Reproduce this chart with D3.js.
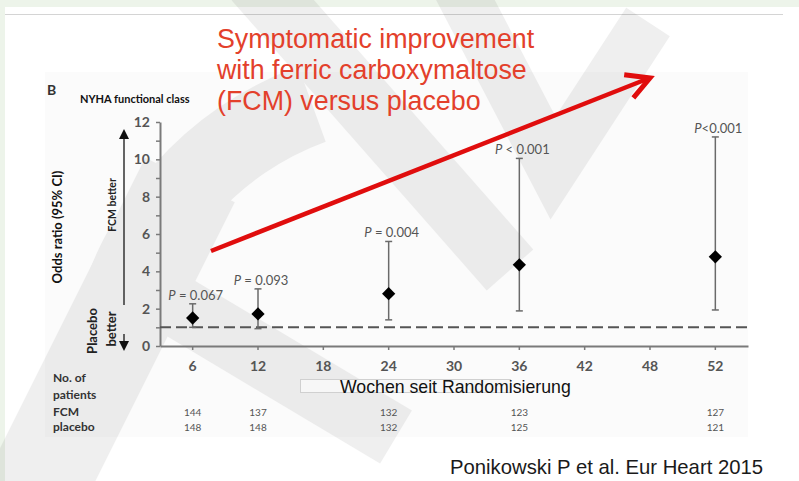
<!DOCTYPE html>
<html>
<head>
<meta charset="utf-8">
<script src="https://cdn.jsdelivr.net/npm/d3@7"></script>
<style>
body { margin: 0; background: #fff; }
svg { display: block; }
.cal { font-family: Lato, "Open Sans", sans-serif; }
.ar { font-family: "Liberation Sans", Arial, sans-serif; }
</style>
</head>
<body>
<svg id="chart" width="799" height="481"></svg>
<script>
// x categories (weeks since randomisation)
const weeks = ["6", "12", "18", "24", "30", "36", "42", "48", "52"];
// weeks that have a measurement
const pointWeeks = ["6", "12", "24", "36", "52"];
const oddsRatio = [1.5, 1.72, 2.8, 4.35, 4.78];
const ciLow = [1.0, 0.93, 1.4, 1.88, 1.93];
const ciHigh = [2.26, 3.06, 5.6, 10.05, 11.2];
const pValues = [" = 0.067", " = 0.093", " = 0.004", " < 0.001", "<0.001"];
const nFCM = [144, 137, 132, 123, 127];
const nPlacebo = [148, 148, 132, 125, 121];
const yTicks = [0, 1, 2, 3, 4, 5, 6, 7, 8, 9, 10, 11, 12];
const titleLines = ["Symptomatic improvement", "with ferric carboxymaltose", "(FCM) versus placebo"];
const rowLabels = ["No. of", "patients", "FCM", "placebo"];

const svg = d3.select("#chart");

// page frame
svg.append("rect").attr("width", 799).attr("height", 481).attr("fill", "#fff");
svg.append("rect").attr("width", 799).attr("height", 7).attr("fill", "#edf4ea");
svg.append("rect").attr("width", 5).attr("height", 481).attr("fill", "#edf4ea");
svg.append("line").attr("x1", 5).attr("x2", 783).attr("y1", 14.5).attr("y2", 14.5)
    .attr("stroke", "#d4d4d4").attr("stroke-width", 1);

// backdrop of the pasted figure
svg.append("rect").attr("x", 45).attr("y", 72).attr("width", 703).attr("height", 365).attr("fill", "#fbfbfb");

// faint logo watermark
const wm = svg.append("g").attr("opacity", 0.06);
wm.append("path")
    .attr("transform", "translate(420,400)")
    .attr("d", d3.arc()({ innerRadius: 275, outerRadius: 355, startAngle: -1.35, endAngle: -0.35 }))
    .attr("fill", "#000");
const band = d3.line();
wm.append("path").attr("d", band([[190, 180], [20, 520]]))
    .attr("stroke", "#000").attr("stroke-width", 100).attr("fill", "none");
wm.append("path").attr("d", band([[255, -20], [510, 270]]))
    .attr("stroke", "#000").attr("stroke-width", 62).attr("fill", "none");
wm.append("path").attr("d", band([[150, 290], [396, 437]]))
    .attr("stroke", "#000").attr("stroke-width", 62).attr("fill", "none");
wm.append("path").attr("d", band([[455, -20], [553, 168], [648, 22]]))
    .attr("stroke", "#000").attr("stroke-width", 52).attr("fill", "none")
    .attr("stroke-linejoin", "miter");

// scales
const x = d3.scaleBand().domain(weeks).range([160, 748]);
const xc = w => x(w) + x.bandwidth() / 2;
const y = d3.scaleLinear().domain([0, 12]).range([346, 122]);

// axes
const gy = svg.append("g").attr("transform", "translate(160,0)")
    .call(d3.axisLeft(y).tickValues(yTicks).tickFormat(d => d % 2 ? "" : d).tickSize(4).tickSizeOuter(0));
const gx = svg.append("g").attr("transform", "translate(0,346)")
    .call(d3.axisBottom(x).tickSize(4).tickSizeOuter(0));
[gx, gy].forEach(g => {
    g.select(".domain").attr("stroke", "#7a7a7a").attr("stroke-width", 2);
    g.selectAll(".tick line").attr("stroke", "#7a7a7a").attr("stroke-width", 1.5);
    g.selectAll(".tick text").attr("class", "cal").attr("font-size", 14)
        .attr("font-weight", "bold").attr("fill", "#555");
});
gy.selectAll(".tick text").attr("x", -10);
gx.selectAll(".tick text").attr("y", 15);

// reference line at OR = 1
svg.append("line").attr("x1", 160).attr("x2", 752).attr("y1", y(1)).attr("y2", y(1))
    .attr("stroke", "#555").attr("stroke-width", 2).attr("stroke-dasharray", "11,5");

// error bars and diamonds
const pts = pointWeeks.map((w, i) => ({ w: w, or: oddsRatio[i], lo: ciLow[i], hi: ciHigh[i], p: pValues[i] }));
const bars = svg.append("g").attr("stroke", "#6a6a6a").attr("stroke-width", 1.5);
pts.forEach(d => {
    bars.append("line").attr("x1", xc(d.w)).attr("x2", xc(d.w)).attr("y1", y(d.lo)).attr("y2", y(d.hi));
    [d.lo, d.hi].forEach(v => {
        bars.append("line").attr("x1", xc(d.w) - 3.5).attr("x2", xc(d.w) + 3.5).attr("y1", y(v)).attr("y2", y(v));
    });
});
svg.append("g").selectAll("path").data(pts).join("path")
    .attr("d", d3.symbol(d3.symbolSquare, 88))
    .attr("transform", d => `translate(${xc(d.w)},${y(d.or)}) rotate(45)`)
    .attr("fill", "#000");

// P values
const pl = svg.append("g").attr("class", "cal").attr("font-size", 13).attr("fill", "#555");
pts.forEach(d => {
    const t = pl.append("text").attr("x", xc(d.w) + 3).attr("y", y(d.hi) - 4).attr("text-anchor", "middle");
    t.append("tspan").attr("font-style", "italic").text("P");
    t.append("tspan").text(d.p);
});

// axis titles and direction arrows
svg.append("text").attr("class", "cal").attr("x", 47).attr("y", 95)
    .attr("font-size", 14).attr("font-weight", "bold").attr("fill", "#333").text("B");
svg.append("text").attr("class", "cal").attr("x", 80).attr("y", 103)
    .attr("font-size", 11).attr("font-weight", "bold").attr("fill", "#111").text("NYHA functional class");
svg.append("text").attr("class", "cal").attr("transform", "translate(62,227) rotate(-90)")
    .attr("text-anchor", "middle").attr("font-size", 13).attr("font-weight", "bold").attr("fill", "#111")
    .text("Odds ratio (95% CI)");
svg.append("text").attr("class", "cal").attr("transform", "translate(116,205) rotate(-90)")
    .attr("text-anchor", "middle").attr("font-size", 10.5).attr("font-weight", "bold").attr("fill", "#222")
    .text("FCM better");
svg.append("text").attr("class", "cal").attr("transform", "translate(97,331) rotate(-90)")
    .attr("text-anchor", "middle").attr("font-size", 13).attr("font-weight", "bold").attr("fill", "#222")
    .text("Placebo");
svg.append("text").attr("class", "cal").attr("transform", "translate(116,329) rotate(-90)")
    .attr("text-anchor", "middle").attr("font-size", 13).attr("font-weight", "bold").attr("fill", "#222")
    .text("better");
svg.append("line").attr("x1", 124).attr("x2", 124).attr("y1", 305).attr("y2", 136)
    .attr("stroke", "#333").attr("stroke-width", 1.5);
svg.append("path").attr("d", "M119,139L124,129L129,139Z").attr("fill", "#111");
svg.append("line").attr("x1", 124).attr("x2", 124).attr("y1", 334).attr("y2", 342)
    .attr("stroke", "#333").attr("stroke-width", 1.5);
svg.append("path").attr("d", "M119,341L124,351L129,341Z").attr("fill", "#111");

// x axis title
svg.append("rect").attr("x", 300.5).attr("y", 379.5).attr("width", 210).attr("height", 13)
    .attr("fill", "#f7f7f7").attr("stroke", "#d0d0d0");
svg.append("text").attr("class", "ar").attr("x", 340).attr("y", 393)
    .attr("font-size", 17.7).attr("fill", "#111").text("Wochen seit Randomisierung");

// patients at risk table
const rowY = [382, 399, 416, 431];
svg.append("g").attr("class", "cal").attr("font-size", 12).attr("font-weight", "bold").attr("fill", "#333")
    .selectAll("text").data(rowLabels).join("text")
    .attr("x", 53).attr("y", (d, i) => rowY[i]).text(d => d);
const nt = svg.append("g").attr("class", "cal").attr("font-size", 10).attr("fill", "#555")
    .attr("text-anchor", "middle");
pointWeeks.forEach((w, i) => {
    nt.append("text").attr("x", xc(w)).attr("y", rowY[2]).text(nFCM[i]);
    nt.append("text").attr("x", xc(w)).attr("y", rowY[3]).text(nPlacebo[i]);
});

// red annotation
svg.append("g").attr("class", "ar").attr("font-size", 26.8).attr("fill", "#e3402b")
    .selectAll("text").data(titleLines).join("text")
    .attr("x", 217).attr("y", (d, i) => 48 + i * 31).text(d => d);
const a0 = [211, 251], a1 = [650, 78];
const ang = Math.atan2(a1[1] - a0[1], a1[0] - a0[0]);
const head = [-0.5, 0.5].map(s => [a1[0] - 26 * Math.cos(ang + s), a1[1] - 26 * Math.sin(ang + s)]);
svg.append("line").attr("x1", a0[0]).attr("y1", a0[1]).attr("x2", a1[0] - 3).attr("y2", a1[1] + 1)
    .attr("stroke", "#e00d0d").attr("stroke-width", 4.5);
svg.append("path").attr("d", d3.line()([head[0], a1, head[1]]))
    .attr("fill", "none").attr("stroke", "#e00d0d").attr("stroke-width", 5).attr("stroke-linejoin", "miter");

// source
svg.append("text").attr("class", "ar").attr("x", 450).attr("y", 474)
    .attr("font-size", 20.3).attr("fill", "#1a1a1a").text("Ponikowski P et al. Eur Heart 2015");
</script>
</body>
</html>
